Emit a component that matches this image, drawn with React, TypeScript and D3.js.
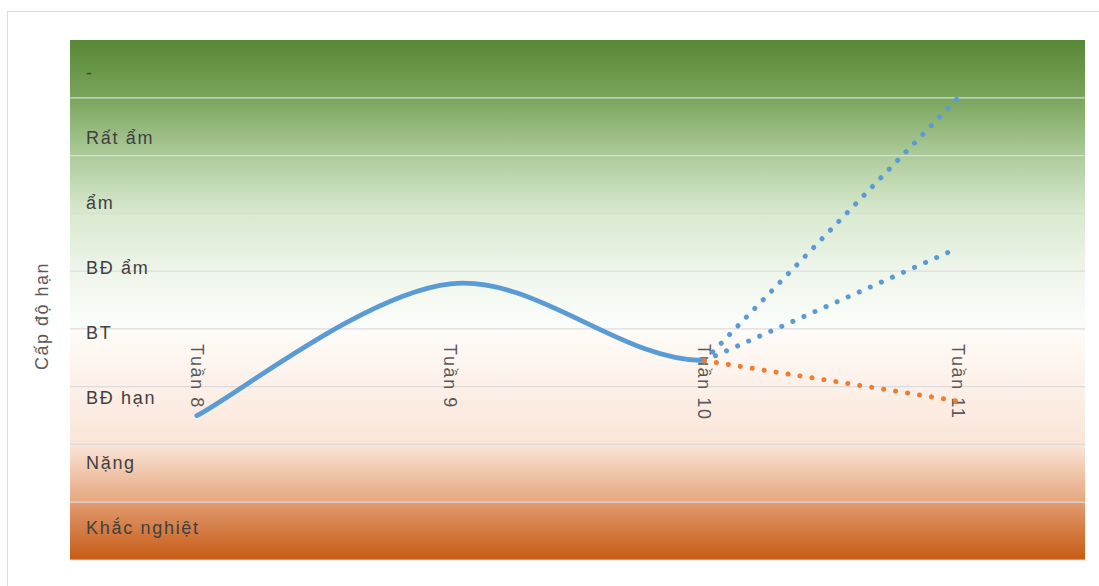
import React from "react";
import * as d3 from "d3";

const categories = ["Tuần 8", "Tuần 9", "Tuần 10", "Tuần 11"];
const levels = ["-", "Rất ẩm", "ẩm", "BĐ ẩm", "BT", "BĐ hạn", "Nặng", "Khắc nghiệt"];
const observedCats = ["Tuần 8", "Tuần 9", "Tuần 10"];
const observedValues = [2.5, 4.78, 3.45];
const forecastCats = ["Tuần 10", "Tuần 11"];
const forecastHigh = [3.45, 8.0];
const forecastMid = [3.45, 5.4];
const forecastLow = [3.45, 2.75];
const gridTicks = [1, 2, 3, 4, 5, 6, 7, 8];
const axisTitle = "Cấp độ hạn";

const W = 1099;
const H = 586;
const plot = { left: 70, right: 1085, top: 40, bottom: 560 };
const font = "'Liberation Sans', Arial, sans-serif";

// Smooth path: cardinal tangents inside, flat arrival at the last point
function smoothPath(pts: [number, number][]) {
  const p = d3.path();
  const n = pts.length;
  const tan = pts.map((pt, i) => {
    if (i === 0) return [(pts[1][0] - pt[0]) / 2, (pts[1][1] - pt[1]) / 2];
    if (i === n - 1) return [pt[0] - pts[i - 1][0], 0];
    return [(pts[i + 1][0] - pts[i - 1][0]) / 2, (pts[i + 1][1] - pts[i - 1][1]) / 2];
  });
  p.moveTo(pts[0][0], pts[0][1]);
  for (let i = 0; i < n - 1; i++) {
    const a = pts[i];
    const b = pts[i + 1];
    p.bezierCurveTo(
      a[0] + tan[i][0] / 3,
      a[1] + tan[i][1] / 3,
      b[0] - tan[i + 1][0] / 3,
      b[1] - tan[i + 1][1] / 3,
      b[0],
      b[1]
    );
  }
  return p.toString();
}

export default function App() {
  const xBand = d3.scaleBand<string>().domain(categories).range([plot.left, plot.right]);
  const xc = (c: string) => (xBand(c) as number) + xBand.bandwidth() / 2;
  const y = d3.scaleLinear().domain([0, 9]).range([plot.bottom, plot.top]);
  const yLevel = d3.scaleBand<string>().domain(levels).range([plot.top, plot.bottom]);

  const straight = d3
    .line<[string, number]>()
    .x((d) => xc(d[0]))
    .y((d) => y(d[1]));

  const obsPts = observedCats.map((c, i) => [xc(c), y(observedValues[i])] as [number, number]);
  const fc = (vals: number[]) => forecastCats.map((c, i) => [c, vals[i]] as [string, number]);

  const dotted = { strokeWidth: 5, strokeLinecap: "round" as const, strokeDasharray: "0.1 12", fill: "none" };

  return (
    <svg
      width={W}
      height={H}
      style={{ position: "absolute", left: 0, top: 0, background: "#fff" }}
      fontFamily={font}
    >
      <defs>
        <linearGradient id="bg" x1="0" y1="0" x2="0" y2="1">
          <stop offset="0" stopColor="#578835" />
          <stop offset="0.111" stopColor="#7aa55c" />
          <stop offset="0.222" stopColor="#adcb9a" />
          <stop offset="0.333" stopColor="#d9e9d0" />
          <stop offset="0.444" stopColor="#eef5ea" />
          <stop offset="0.553" stopColor="#fbfdfa" />
          <stop offset="0.558" stopColor="#fefbf8" />
          <stop offset="0.667" stopColor="#fcf0e8" />
          <stop offset="0.778" stopColor="#fae5d8" />
          <stop offset="0.885" stopColor="#e6a880" />
          <stop offset="0.893" stopColor="#e0986d" />
          <stop offset="1" stopColor="#c65b14" />
        </linearGradient>
      </defs>
      <rect x={7.5} y={11.5} width={1200} height={700} fill="none" stroke="#d9d9d9" />
      <rect
        x={plot.left}
        y={plot.top}
        width={plot.right - plot.left}
        height={plot.bottom - plot.top}
        fill="url(#bg)"
      />
      {gridTicks.map((t) => (
        <line
          key={t}
          x1={plot.left}
          x2={plot.right}
          y1={y(t)}
          y2={y(t)}
          stroke="#dcdcdc"
          strokeWidth={1.3}
        />
      ))}
      <line x1={plot.left} x2={plot.right} y1={plot.bottom} y2={plot.bottom} stroke="#d9d9d9" />
      {levels.map((l) => (
        <text
          key={l}
          x={86}
          y={(yLevel(l) as number) + yLevel.bandwidth() / 2}
          dy="0.35em"
          fontSize={18}
          letterSpacing={1.7}
          fill="#404040"
        >
          {l}
        </text>
      ))}
      <text
        transform={`translate(42,316) rotate(-90)`}
        textAnchor="middle"
        dy="0.35em"
        fontSize={18}
        letterSpacing={1.5}
        fill="#595959"
      >
        {axisTitle}
      </text>
      {categories.map((c) => (
        <text
          key={c}
          transform={`translate(${xc(c)},344) rotate(90)`}
          dy="0.35em"
          fontSize={18}
          letterSpacing={1.6}
          fill="#595959"
        >
          {c}
        </text>
      ))}
      <path d={smoothPath(obsPts)} fill="none" stroke="#5b9bd5" strokeWidth={4.8} strokeLinecap="round" />
      <path d={straight(fc(forecastHigh)) || ""} stroke="#5b9bd5" {...dotted} />
      <path d={straight(fc(forecastMid)) || ""} stroke="#5b9bd5" {...dotted} />
      <path d={straight(fc(forecastLow)) || ""} stroke="#ed7d31" {...dotted} />
    </svg>
  );
}
